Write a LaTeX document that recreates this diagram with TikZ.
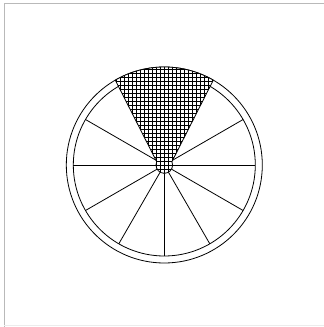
\documentclass[tikz,border=0pt]{standalone}
\tikzset{
  wheelline/.style={line width=0.8pt, black},
  gridline/.style={line width=0.5pt, black}
}
\begin{document}
\begin{tikzpicture}[x=1pt,y=1pt]
\useasboundingbox (0,0) rectangle (324,327);
% frame
\draw[gray!55, line width=1pt] (4,0) -- (4,323) -- (324,323);
\draw[gray!15, line width=1pt] (4,1) -- (324,1);
\begin{scope}[shift={(164.3,162)}]
  \coordinate (c) at (0,0);
  \draw[wheelline] (c) circle (98);
  \draw[wheelline] (c) circle (91);
  \foreach \a in {0,30,150,180,210,240,270,300,330}
    \draw[wheelline] (\a:8.3) -- (\a:91);
  \path[fill=white] (120:98) -- (156.5:8.3) arc (156.5:383.5:8.3) -- (60:98) arc (60:120:98) -- cycle;
  \begin{scope}
    \clip (120:98) -- (156.5:8.3) arc (156.5:383.5:8.3) -- (60:98) arc (60:120:98) -- cycle;
    \draw[gridline, step=4] (-60,-12) grid (60,100);
  \end{scope}
  \draw[wheelline] (120:98) -- (156.5:8.3) arc (156.5:383.5:8.3) -- (60:98) arc (60:120:98) -- cycle;
\end{scope}
\end{tikzpicture}
\end{document}
